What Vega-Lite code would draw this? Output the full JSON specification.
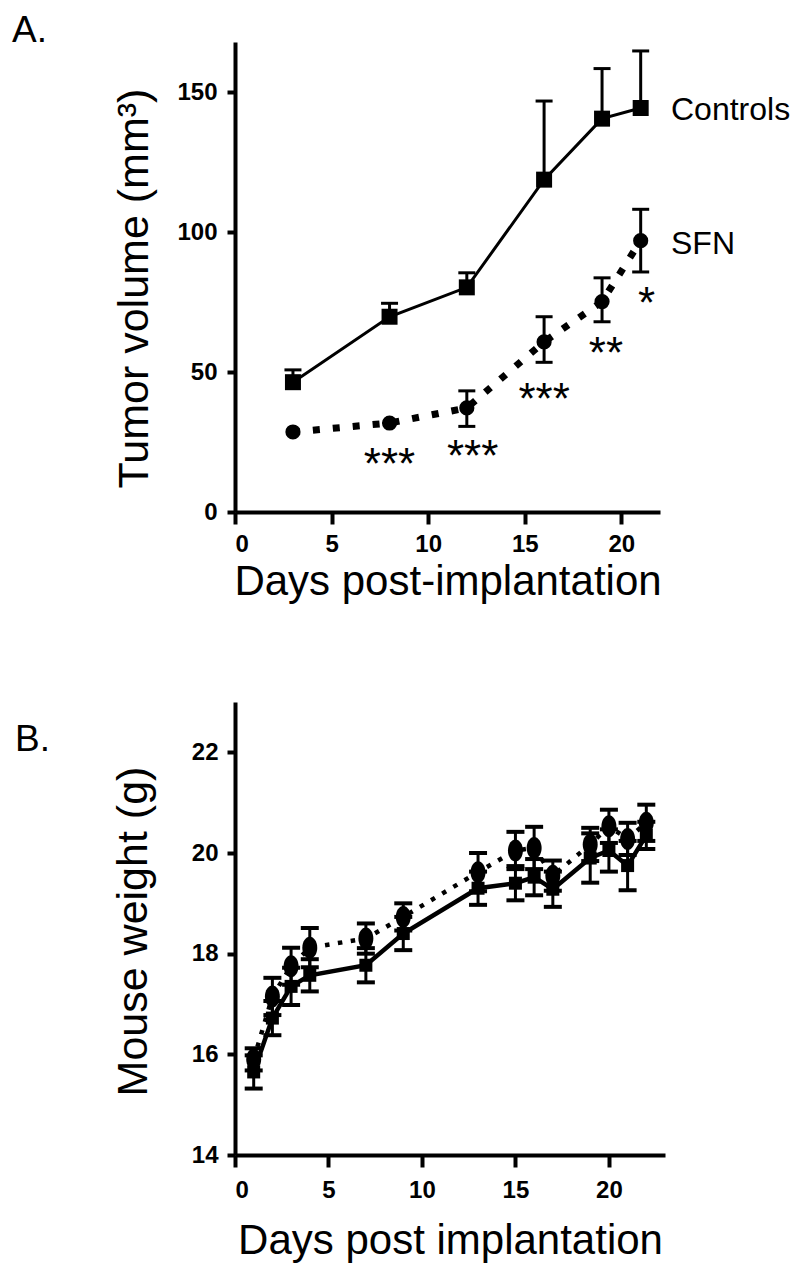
{
  "$schema": "https://vega.github.io/schema/vega-lite/v6.json",
  "background": "white",
  "padding": {"left": 12, "top": 12, "right": 5, "bottom": 5},
  "bounds": "flush",
  "spacing": 190,
  "config": {
    "view": {"stroke": null},
    "font": "Liberation Sans",
    "axis": {
      "grid": false,
      "domainColor": "black",
      "domainWidth": 4,
      "tickColor": "black",
      "tickWidth": 4,
      "labelFont": "Liberation Sans",
      "labelFontWeight": "bold",
      "labelFontSize": 24,
      "labelColor": "black",
      "titleFont": "Liberation Sans",
      "titleFontWeight": "normal",
      "titleFontSize": 42,
      "titleColor": "black"
    }
  },
  "datasets": {
    "a_ctrl": [
      {"day": 3, "vol": 46.4, "hi": 50.8},
      {"day": 8, "vol": 69.8, "hi": 74.6},
      {"day": 12, "vol": 80.3, "hi": 85.5},
      {"day": 16, "vol": 118.8, "hi": 146.9},
      {"day": 19, "vol": 140.6, "hi": 158.5},
      {"day": 21, "vol": 144.4, "hi": 164.8}
    ],
    "a_sfn": [
      {"day": 3, "vol": 28.6, "lo": null, "hi": null},
      {"day": 8, "vol": 31.8, "lo": null, "hi": null},
      {"day": 12, "vol": 37.2, "lo": 30.6, "hi": 43.3},
      {"day": 16, "vol": 60.8, "lo": 53.5, "hi": 69.8},
      {"day": 19, "vol": 75.2, "lo": 68.0, "hi": 83.7},
      {"day": 21, "vol": 97.0, "lo": 85.8, "hi": 108.2}
    ],
    "a_labels": [
      {"day": 22.57, "vol": 144.3, "label": "Controls"},
      {"day": 22.57, "vol": 96.3, "label": "SFN"}
    ],
    "a_sig": [
      {"day": 8.0, "vol": 20.7, "label": "***"},
      {"day": 12.3, "vol": 23.7, "label": "***"},
      {"day": 16.0, "vol": 44.0, "label": "***"},
      {"day": 19.2, "vol": 60.5, "label": "**"},
      {"day": 21.3, "vol": 78.2, "label": "*"}
    ],
    "a_panel": [{"day": -11.54, "vol": 168, "label": "A."}],
    "b_ctrl": [
      {"day": 1, "w": 15.65, "lo": 15.32, "hi": 15.98},
      {"day": 2, "w": 16.72, "lo": 16.38, "hi": 17.06},
      {"day": 3, "w": 17.35, "lo": 16.98, "hi": 17.72},
      {"day": 4, "w": 17.57, "lo": 17.25, "hi": 17.89},
      {"day": 7, "w": 17.77, "lo": 17.43, "hi": 18.11},
      {"day": 9, "w": 18.4, "lo": 18.07, "hi": 18.73},
      {"day": 13, "w": 19.3, "lo": 18.97, "hi": 19.63},
      {"day": 15, "w": 19.4, "lo": 19.06, "hi": 19.74},
      {"day": 16, "w": 19.52, "lo": 19.16, "hi": 19.88},
      {"day": 17, "w": 19.28, "lo": 18.93, "hi": 19.63},
      {"day": 19, "w": 19.9, "lo": 19.41, "hi": 20.39},
      {"day": 20, "w": 20.05, "lo": 19.63, "hi": 20.47},
      {"day": 21, "w": 19.75, "lo": 19.26, "hi": 20.24},
      {"day": 22, "w": 20.35, "lo": 20.08, "hi": 20.62}
    ],
    "b_sfn": [
      {"day": 1, "w": 15.9, "lo": 15.68, "hi": 16.12},
      {"day": 2, "w": 17.15, "lo": 16.78, "hi": 17.52},
      {"day": 3, "w": 17.75, "lo": 17.38, "hi": 18.12},
      {"day": 4, "w": 18.12, "lo": 17.73, "hi": 18.51},
      {"day": 7, "w": 18.3, "lo": 18.0, "hi": 18.6},
      {"day": 9, "w": 18.73, "lo": 18.46, "hi": 19.0},
      {"day": 13, "w": 19.62, "lo": 19.24, "hi": 20.0},
      {"day": 15, "w": 20.05, "lo": 19.68, "hi": 20.42},
      {"day": 16, "w": 20.1, "lo": 19.68, "hi": 20.52},
      {"day": 17, "w": 19.55, "lo": 19.25, "hi": 19.85},
      {"day": 19, "w": 20.17, "lo": 19.84, "hi": 20.5},
      {"day": 20, "w": 20.53, "lo": 20.2, "hi": 20.86},
      {"day": 21, "w": 20.28, "lo": 19.96, "hi": 20.6},
      {"day": 22, "w": 20.6, "lo": 20.24, "hi": 20.96}
    ],
    "b_panel": [{"day": -11.77, "w": 22.03, "label": "B."}]
  },
  "vconcat": [
    {
      "width": 425,
      "height": 470,
      "layer": [
        {
          "data": {"name": "a_ctrl"},
          "mark": {"type": "rule", "strokeWidth": 3, "color": "black"},
          "encoding": {
            "x": {"field": "day", "type": "quantitative", "title": "Days post-implantation", "scale": {"domain": [0, 22], "nice": false, "zero": false}, "axis": {"values": [0, 5, 10, 15, 20], "tickSize": 12, "labelPadding": 8, "titlePadding": 5}},
            "y": {"field": "vol", "type": "quantitative", "title": "Tumor volume (mm³)", "scale": {"domain": [0, 168], "nice": false}, "axis": {"values": [0, 50, 100, 150], "tickSize": 8, "labelPadding": 10, "titlePadding": 20, "titleFontSize": 43, "titleY": 246}},
            "y2": {"field": "hi"}
          }
        },
        {
          "data": {"name": "a_ctrl"},
          "mark": {"type": "tick", "orient": "horizontal", "size": 17, "thickness": 3, "color": "black", "opacity": 1},
          "encoding": {
            "x": {"field": "day", "type": "quantitative", "title": "Days post-implantation", "scale": {"domain": [0, 22], "nice": false, "zero": false}},
            "y": {"field": "hi", "type": "quantitative", "title": "Tumor volume (mm³)", "scale": {"domain": [0, 168], "nice": false}}
          }
        },
        {
          "data": {"name": "a_sfn"},
          "mark": {"type": "rule", "strokeWidth": 3, "color": "black"},
          "encoding": {
            "x": {"field": "day", "type": "quantitative", "title": "Days post-implantation", "scale": {"domain": [0, 22], "nice": false, "zero": false}},
            "y": {"field": "lo", "type": "quantitative", "title": "Tumor volume (mm³)", "scale": {"domain": [0, 168], "nice": false}},
            "y2": {"field": "hi"}
          }
        },
        {
          "data": {"name": "a_sfn"},
          "mark": {"type": "tick", "orient": "horizontal", "size": 17, "thickness": 3, "color": "black", "opacity": 1},
          "encoding": {
            "x": {"field": "day", "type": "quantitative", "title": "Days post-implantation", "scale": {"domain": [0, 22], "nice": false, "zero": false}},
            "y": {"field": "hi", "type": "quantitative", "title": "Tumor volume (mm³)", "scale": {"domain": [0, 168], "nice": false}}
          }
        },
        {
          "data": {"name": "a_sfn"},
          "mark": {"type": "tick", "orient": "horizontal", "size": 17, "thickness": 3, "color": "black", "opacity": 1},
          "encoding": {
            "x": {"field": "day", "type": "quantitative", "title": "Days post-implantation", "scale": {"domain": [0, 22], "nice": false, "zero": false}},
            "y": {"field": "lo", "type": "quantitative", "title": "Tumor volume (mm³)", "scale": {"domain": [0, 168], "nice": false}}
          }
        },
        {
          "data": {"name": "a_ctrl"},
          "mark": {"type": "line", "strokeWidth": 3, "color": "black"},
          "encoding": {
            "x": {"field": "day", "type": "quantitative", "title": "Days post-implantation", "scale": {"domain": [0, 22], "nice": false, "zero": false}},
            "y": {"field": "vol", "type": "quantitative", "title": "Tumor volume (mm³)", "scale": {"domain": [0, 168], "nice": false}}
          }
        },
        {
          "data": {"name": "a_sfn"},
          "mark": {"type": "line", "strokeWidth": 7, "strokeDash": [7, 13], "strokeCap": "butt", "color": "black"},
          "encoding": {
            "x": {"field": "day", "type": "quantitative", "title": "Days post-implantation", "scale": {"domain": [0, 22], "nice": false, "zero": false}},
            "y": {"field": "vol", "type": "quantitative", "title": "Tumor volume (mm³)", "scale": {"domain": [0, 168], "nice": false}}
          }
        },
        {
          "data": {"name": "a_ctrl"},
          "mark": {"type": "point", "shape": "square", "filled": true, "size": 256, "opacity": 1, "color": "black"},
          "encoding": {
            "x": {"field": "day", "type": "quantitative", "title": "Days post-implantation", "scale": {"domain": [0, 22], "nice": false, "zero": false}},
            "y": {"field": "vol", "type": "quantitative", "title": "Tumor volume (mm³)", "scale": {"domain": [0, 168], "nice": false}}
          }
        },
        {
          "data": {"name": "a_sfn"},
          "mark": {"type": "point", "shape": "circle", "filled": true, "size": 230, "opacity": 1, "color": "black"},
          "encoding": {
            "x": {"field": "day", "type": "quantitative", "title": "Days post-implantation", "scale": {"domain": [0, 22], "nice": false, "zero": false}},
            "y": {"field": "vol", "type": "quantitative", "title": "Tumor volume (mm³)", "scale": {"domain": [0, 168], "nice": false}}
          }
        },
        {
          "data": {"name": "a_labels"},
          "mark": {"type": "text", "align": "left", "baseline": "alphabetic", "dy": 11.5, "fontSize": 32, "font": "Liberation Sans", "color": "black"},
          "encoding": {
            "x": {"field": "day", "type": "quantitative", "title": "Days post-implantation", "scale": {"domain": [0, 22], "nice": false, "zero": false}},
            "y": {"field": "vol", "type": "quantitative", "title": "Tumor volume (mm³)", "scale": {"domain": [0, 168], "nice": false}},
            "text": {"field": "label"}
          }
        },
        {
          "data": {"name": "a_sig"},
          "mark": {"type": "text", "align": "center", "baseline": "alphabetic", "dy": 25, "fontSize": 44, "font": "Liberation Sans", "color": "black"},
          "encoding": {
            "x": {"field": "day", "type": "quantitative", "title": "Days post-implantation", "scale": {"domain": [0, 22], "nice": false, "zero": false}},
            "y": {"field": "vol", "type": "quantitative", "title": "Tumor volume (mm³)", "scale": {"domain": [0, 168], "nice": false}},
            "text": {"field": "label"}
          }
        },
        {
          "data": {"name": "a_panel"},
          "mark": {"type": "text", "align": "left", "baseline": "alphabetic", "fontSize": 37, "font": "Liberation Sans", "color": "black"},
          "encoding": {
            "x": {"field": "day", "type": "quantitative", "title": "Days post-implantation", "scale": {"domain": [0, 22], "nice": false, "zero": false}},
            "y": {"field": "vol", "type": "quantitative", "title": "Tumor volume (mm³)", "scale": {"domain": [0, 168], "nice": false}},
            "text": {"field": "label"}
          }
        }
      ]
    },
    {
      "width": 430,
      "height": 453,
      "layer": [
        {
          "data": {"name": "b_ctrl"},
          "mark": {"type": "rule", "strokeWidth": 3, "color": "black"},
          "encoding": {
            "x": {"field": "day", "type": "quantitative", "title": "Days post implantation", "scale": {"domain": [0, 23], "nice": false, "zero": false}, "axis": {"values": [0, 5, 10, 15, 20], "tickSize": 12, "labelPadding": 11, "titlePadding": 18}},
            "y": {"field": "lo", "type": "quantitative", "title": "Mouse weight (g)", "scale": {"domain": [14, 23], "nice": false, "zero": false}, "axis": {"values": [14, 16, 18, 20, 22], "tickSize": 8, "labelPadding": 9, "titlePadding": 36, "titleFontSize": 43, "titleY": 229}},
            "y2": {"field": "hi"}
          }
        },
        {
          "data": {"name": "b_sfn"},
          "mark": {"type": "rule", "strokeWidth": 3, "color": "black"},
          "encoding": {
            "x": {"field": "day", "type": "quantitative", "title": "Days post implantation", "scale": {"domain": [0, 23], "nice": false, "zero": false}},
            "y": {"field": "lo", "type": "quantitative", "title": "Mouse weight (g)", "scale": {"domain": [14, 23], "nice": false, "zero": false}},
            "y2": {"field": "hi"}
          }
        },
        {
          "data": {"name": "b_ctrl"},
          "mark": {"type": "tick", "orient": "horizontal", "size": 18, "thickness": 4, "color": "black", "opacity": 1},
          "encoding": {
            "x": {"field": "day", "type": "quantitative", "title": "Days post implantation", "scale": {"domain": [0, 23], "nice": false, "zero": false}},
            "y": {"field": "lo", "type": "quantitative", "title": "Mouse weight (g)", "scale": {"domain": [14, 23], "nice": false, "zero": false}}
          }
        },
        {
          "data": {"name": "b_ctrl"},
          "mark": {"type": "tick", "orient": "horizontal", "size": 18, "thickness": 4, "color": "black", "opacity": 1},
          "encoding": {
            "x": {"field": "day", "type": "quantitative", "title": "Days post implantation", "scale": {"domain": [0, 23], "nice": false, "zero": false}},
            "y": {"field": "hi", "type": "quantitative", "title": "Mouse weight (g)", "scale": {"domain": [14, 23], "nice": false, "zero": false}}
          }
        },
        {
          "data": {"name": "b_sfn"},
          "mark": {"type": "tick", "orient": "horizontal", "size": 18, "thickness": 4, "color": "black", "opacity": 1},
          "encoding": {
            "x": {"field": "day", "type": "quantitative", "title": "Days post implantation", "scale": {"domain": [0, 23], "nice": false, "zero": false}},
            "y": {"field": "lo", "type": "quantitative", "title": "Mouse weight (g)", "scale": {"domain": [14, 23], "nice": false, "zero": false}}
          }
        },
        {
          "data": {"name": "b_sfn"},
          "mark": {"type": "tick", "orient": "horizontal", "size": 18, "thickness": 4, "color": "black", "opacity": 1},
          "encoding": {
            "x": {"field": "day", "type": "quantitative", "title": "Days post implantation", "scale": {"domain": [0, 23], "nice": false, "zero": false}},
            "y": {"field": "hi", "type": "quantitative", "title": "Mouse weight (g)", "scale": {"domain": [14, 23], "nice": false, "zero": false}}
          }
        },
        {
          "data": {"name": "b_ctrl"},
          "mark": {"type": "line", "strokeWidth": 4.5, "color": "black"},
          "encoding": {
            "x": {"field": "day", "type": "quantitative", "title": "Days post implantation", "scale": {"domain": [0, 23], "nice": false, "zero": false}},
            "y": {"field": "w", "type": "quantitative", "title": "Mouse weight (g)", "scale": {"domain": [14, 23], "nice": false, "zero": false}}
          }
        },
        {
          "data": {"name": "b_sfn"},
          "mark": {"type": "line", "strokeWidth": 4.5, "strokeDash": [4.5, 8.5], "strokeCap": "butt", "color": "black"},
          "encoding": {
            "x": {"field": "day", "type": "quantitative", "title": "Days post implantation", "scale": {"domain": [0, 23], "nice": false, "zero": false}},
            "y": {"field": "w", "type": "quantitative", "title": "Mouse weight (g)", "scale": {"domain": [14, 23], "nice": false, "zero": false}}
          }
        },
        {
          "data": {"name": "b_ctrl"},
          "mark": {"type": "point", "shape": "square", "filled": true, "size": 169, "opacity": 1, "color": "black"},
          "encoding": {
            "x": {"field": "day", "type": "quantitative", "title": "Days post implantation", "scale": {"domain": [0, 23], "nice": false, "zero": false}},
            "y": {"field": "w", "type": "quantitative", "title": "Mouse weight (g)", "scale": {"domain": [14, 23], "nice": false, "zero": false}}
          }
        },
        {
          "data": {"name": "b_sfn"},
          "mark": {"type": "point", "shape": "M0,-1A0.68,1 0 1,1 0,1A0.68,1 0 1,1 0,-1Z", "filled": true, "size": 484, "opacity": 1, "color": "black"},
          "encoding": {
            "x": {"field": "day", "type": "quantitative", "title": "Days post implantation", "scale": {"domain": [0, 23], "nice": false, "zero": false}},
            "y": {"field": "w", "type": "quantitative", "title": "Mouse weight (g)", "scale": {"domain": [14, 23], "nice": false, "zero": false}}
          }
        },
        {
          "data": {"name": "b_panel"},
          "mark": {"type": "text", "align": "left", "baseline": "alphabetic", "fontSize": 37, "font": "Liberation Sans", "color": "black"},
          "encoding": {
            "x": {"field": "day", "type": "quantitative", "title": "Days post implantation", "scale": {"domain": [0, 23], "nice": false, "zero": false}},
            "y": {"field": "w", "type": "quantitative", "title": "Mouse weight (g)", "scale": {"domain": [14, 23], "nice": false, "zero": false}},
            "text": {"field": "label"}
          }
        }
      ]
    }
  ]
}
